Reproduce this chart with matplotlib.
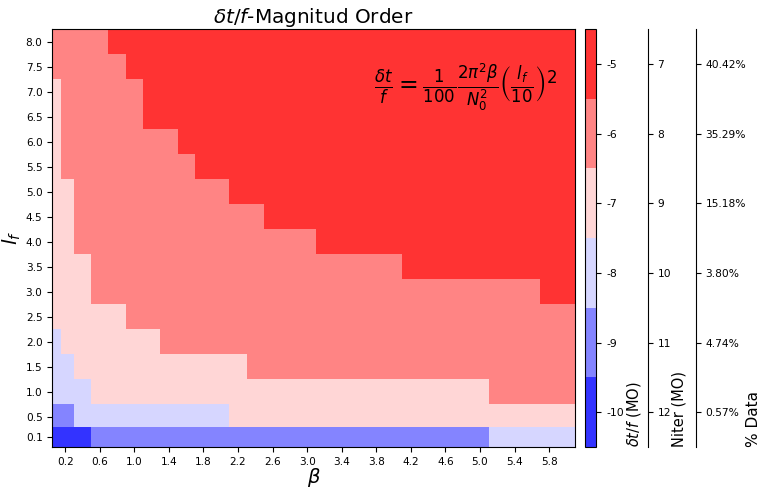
import numpy as np
import matplotlib
matplotlib.use("Agg")
import matplotlib.pyplot as plt

# beta values (columns) and l_f values (rows)
beta = [0.1, 0.2, 0.4, 0.6, 0.8, 1.0, 1.2, 1.4, 1.6, 1.8, 2.0, 2.2, 2.4, 2.6, 2.8, 3.0,
        3.2, 3.4, 3.6, 3.8, 4.0, 4.2, 4.4, 4.6, 4.8, 5.0, 5.2, 5.4, 5.6, 5.8, 6.0]
lf = [0.1, 0.5, 1.0, 1.5, 2.0, 2.5, 3.0, 3.5, 4.0, 4.5, 5.0, 5.5, 6.0, 6.5, 7.0, 7.5, 8.0]

# magnitude order of dt/f, one row per l_f value
mag_order = [
    [-10, -10, -10, -9, -9, -9, -9, -9, -9, -9, -9, -9, -9, -9, -9, -9, -9, -9, -9, -9, -9, -9, -9, -9, -9, -9, -8, -8, -8, -8, -8],
    [-9, -9, -8, -8, -8, -8, -8, -8, -8, -8, -8, -7, -7, -7, -7, -7, -7, -7, -7, -7, -7, -7, -7, -7, -7, -7, -7, -7, -7, -7, -7],
    [-8, -8, -8, -7, -7, -7, -7, -7, -7, -7, -7, -7, -7, -7, -7, -7, -7, -7, -7, -7, -7, -7, -7, -7, -7, -7, -6, -6, -6, -6, -6],
    [-8, -8, -7, -7, -7, -7, -7, -7, -7, -7, -7, -7, -6, -6, -6, -6, -6, -6, -6, -6, -6, -6, -6, -6, -6, -6, -6, -6, -6, -6, -6],
    [-8, -7, -7, -7, -7, -7, -7, -6, -6, -6, -6, -6, -6, -6, -6, -6, -6, -6, -6, -6, -6, -6, -6, -6, -6, -6, -6, -6, -6, -6, -6],
    [-7, -7, -7, -7, -7, -6, -6, -6, -6, -6, -6, -6, -6, -6, -6, -6, -6, -6, -6, -6, -6, -6, -6, -6, -6, -6, -6, -6, -6, -6, -6],
    [-7, -7, -7, -6, -6, -6, -6, -6, -6, -6, -6, -6, -6, -6, -6, -6, -6, -6, -6, -6, -6, -6, -6, -6, -6, -6, -6, -6, -6, -5, -5],
    [-7, -7, -7, -6, -6, -6, -6, -6, -6, -6, -6, -6, -6, -6, -6, -6, -6, -6, -6, -6, -6, -5, -5, -5, -5, -5, -5, -5, -5, -5, -5],
    [-7, -7, -6, -6, -6, -6, -6, -6, -6, -6, -6, -6, -6, -6, -6, -6, -5, -5, -5, -5, -5, -5, -5, -5, -5, -5, -5, -5, -5, -5, -5],
    [-7, -7, -6, -6, -6, -6, -6, -6, -6, -6, -6, -6, -6, -5, -5, -5, -5, -5, -5, -5, -5, -5, -5, -5, -5, -5, -5, -5, -5, -5, -5],
    [-7, -7, -6, -6, -6, -6, -6, -6, -6, -6, -6, -5, -5, -5, -5, -5, -5, -5, -5, -5, -5, -5, -5, -5, -5, -5, -5, -5, -5, -5, -5],
    [-7, -6, -6, -6, -6, -6, -6, -6, -6, -5, -5, -5, -5, -5, -5, -5, -5, -5, -5, -5, -5, -5, -5, -5, -5, -5, -5, -5, -5, -5, -5],
    [-7, -6, -6, -6, -6, -6, -6, -6, -5, -5, -5, -5, -5, -5, -5, -5, -5, -5, -5, -5, -5, -5, -5, -5, -5, -5, -5, -5, -5, -5, -5],
    [-7, -6, -6, -6, -6, -6, -5, -5, -5, -5, -5, -5, -5, -5, -5, -5, -5, -5, -5, -5, -5, -5, -5, -5, -5, -5, -5, -5, -5, -5, -5],
    [-7, -6, -6, -6, -6, -6, -5, -5, -5, -5, -5, -5, -5, -5, -5, -5, -5, -5, -5, -5, -5, -5, -5, -5, -5, -5, -5, -5, -5, -5, -5],
    [-6, -6, -6, -6, -6, -5, -5, -5, -5, -5, -5, -5, -5, -5, -5, -5, -5, -5, -5, -5, -5, -5, -5, -5, -5, -5, -5, -5, -5, -5, -5],
    [-6, -6, -6, -6, -5, -5, -5, -5, -5, -5, -5, -5, -5, -5, -5, -5, -5, -5, -5, -5, -5, -5, -5, -5, -5, -5, -5, -5, -5, -5, -5],
]

# colorbar levels and the extra scales beside it
mo_levels = [-5, -6, -7, -8, -9, -10]
niter_labels = ['7', '8', '9', '10', '11', '12']
pct_labels = ['40.42%', '35.29%', '15.18%', '3.80%', '4.74%', '0.57%']

xtick_vals = [0.2, 0.6, 1.0, 1.4, 1.8, 2.2, 2.6, 3.0, 3.4, 3.8, 4.2, 4.6, 5.0, 5.4, 5.8]

fig = plt.figure(figsize=(7.61, 4.87), dpi=100)
ax = fig.add_axes([0.0687, 0.0821, 0.6869, 0.858])
cax = fig.add_axes([0.7687, 0.0821, 0.0151, 0.858])

cmap = plt.get_cmap('bwr', 6)
mesh = ax.pcolormesh(beta, lf, np.array(mag_order), cmap=cmap, vmin=-10.5, vmax=-4.5,
                     shading='nearest', alpha=0.8)

ax.set_xticks(xtick_vals)
ax.set_xticklabels(['%.1f' % v for v in xtick_vals], fontsize=7.6)
ax.set_yticks(lf)
ax.set_yticklabels(['%.1f' % v for v in lf], fontsize=7.6)
ax.set_xlabel(r'$\beta$', fontsize=14, labelpad=-0.6)
ax.set_ylabel(r'$l_f$', fontsize=14.4, labelpad=2)
ax.set_title(r'$\delta t/f$-Magnitud Order', fontsize=14.4, pad=4)

ax.text(0.615, 0.86,
        r'$\frac{\delta t}{f} = \frac{1}{100}\frac{2\pi^2\beta}{N_0^2}\left(\frac{l_f}{10}\right)^2$',
        transform=ax.transAxes, fontsize=17, ha='left', va='center')

cb = fig.colorbar(mesh, cax=cax, ticks=mo_levels)
cb.ax.set_yticklabels([str(v) for v in mo_levels], fontsize=7.8)
cb.set_label(r'$\delta t/f$ (MO)', fontsize=10.5, loc='bottom', labelpad=1)

# extra scales drawn as outward right spines
for offset, labels, title, fs in [(37, niter_labels, 'Niter (MO)', 10.5),
                                  (71.6, pct_labels, '% Data', 11)]:
    tw = fig.add_axes(cax.get_position(), frameon=True)
    tw.patch.set_visible(False)
    tw.set_xticks([])
    tw.yaxis.tick_right()
    tw.yaxis.set_label_position('right')
    for s in ['left', 'top', 'bottom']:
        tw.spines[s].set_visible(False)
    tw.spines['right'].set_position(('outward', offset))
    tw.set_ylim(-10.5, -4.5)
    tw.set_yticks(mo_levels)
    tw.set_yticklabels(labels, fontsize=7.7)
    tw.set_ylabel(title, fontsize=fs, loc='bottom', labelpad=0)

fig.savefig('out.png', dpi=100)
